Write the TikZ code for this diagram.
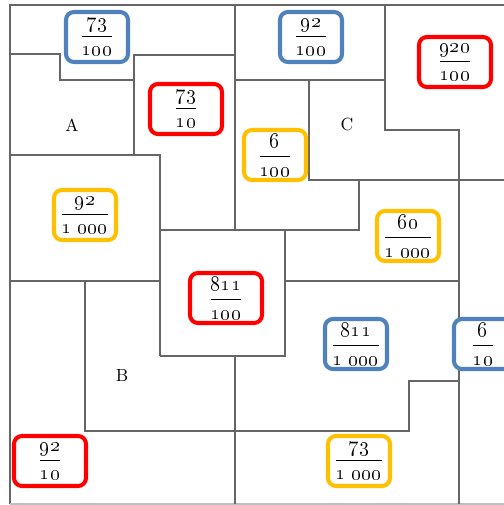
\documentclass[tikz,border=0pt]{standalone}
\usepackage{amsmath}
\definecolor{tagblue}{HTML}{4F81BD}
\definecolor{tagred}{HTML}{FF0000}
\definecolor{taggold}{HTML}{FFC000}
\newcommand{\osfrac}[2]{$\dfrac{\text{\oldstylenums{#1}}}{\text{\oldstylenums{#2}}}$}
\tikzset{
  wall/.style={draw=black!60, line width=0.85pt},
  tag/.style={line width=2.3pt, rounded corners=4.5pt, fill=white, font=\large,
    minimum width=1.24cm, minimum height=1cm, inner sep=0.5pt},
  bluetag/.style={tag, draw=tagblue},
  redtag/.style={tag, draw=tagred, minimum width=1.44cm},
  goldtag/.style={tag, draw=taggold}
}

\begin{document}
\begin{tikzpicture}[x=0.02cm,y=-0.02cm]
  \useasboundingbox (0,0) rectangle (504,505);
  \draw[wall] (10,504)--(10,5)--(504,5);
  \draw[wall,draw=black!25] (10,504)--(504,504);
  \draw[wall] (10,54)--(60,54)--(60,80)--(134,80);
  \draw[wall] (134,155)--(134,55)--(235,55);
  \draw[wall] (10,155)--(160,155)--(160,356);
  \draw[wall] (235,5)--(235,230);
  \draw[wall] (160,230)--(359,230)--(359,180);
  \draw[wall] (235,80)--(385,80);
  \draw[wall] (385,5)--(385,130)--(459,130)--(459,504);
  \draw[wall] (309,80)--(309,180)--(504,180);
  \draw[wall] (285,230)--(285,356)--(160,356);
  \draw[wall] (10,281)--(160,281);
  \draw[wall] (285,281)--(459,281);
  \draw[wall] (85,281)--(85,431)--(409,431)--(409,381)--(459,381);
  \draw[wall] (235,356)--(235,504);

  \node (a) at (72,125) {A};
  \node (b) at (122,375) {B};
  \node (c) at (347,124) {C};

  \node[bluetag] (sevthreec) at (97,37) {\osfrac{73}{100}};
  \node[bluetag] (ninetwoc) at (311,37) {\osfrac{92}{100}};
  \node[redtag] (ninetwentyc) at (455,62) {\osfrac{920}{100}};
  \node[redtag] (sevthreex) at (186,109) {\osfrac{73}{10}};
  \node[goldtag] (sixc) at (275,155) {\osfrac{6}{100}};
  \node[goldtag] (ninetwom) at (85,215) {\osfrac{92}{1\kern3pt000}};
  \node[goldtag] (sixtym) at (408,236) {\osfrac{60}{1\kern3pt000}};
  \node[redtag] (eightelevenc) at (226,298) {\osfrac{811}{100}};
  \node[bluetag] (eightelevenm) at (356,344) {\osfrac{811}{1\kern3pt000}};
  \node[bluetag,minimum width=1.16cm] (sixx) at (483,344) {\osfrac{6}{10}};
  \node[goldtag] (sevthreem) at (359,461) {\osfrac{73}{1\kern3pt000}};
  \node[redtag] (ninetwox) at (50,461) {\osfrac{92}{10}};
\end{tikzpicture}
\end{document}
